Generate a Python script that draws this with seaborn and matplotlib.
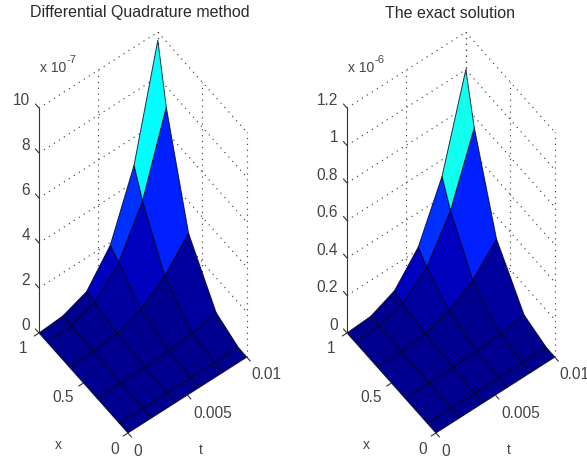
import numpy as np
import matplotlib
matplotlib.use("Agg")
import matplotlib.pyplot as plt
from matplotlib.colors import ListedColormap
from mpl_toolkits.mplot3d import proj3d
import seaborn as sns

# ---------- data ----------
t_nodes = [0.0, 0.002, 0.004, 0.006, 0.008, 0.010]
x_nodes = [0.0, 0.095, 0.345, 0.655, 0.905, 1.0]

# rows follow x_nodes, columns follow t_nodes; multiples of 1e-7
dq_values = [
    [0, 0,     0,     0,     0,     0],
    [0, 0.000, 0.001, 0.002, 0.004, 0.008],
    [0, 0.003, 0.025, 0.085, 0.200, 0.450],
    [0, 0.020, 0.170, 0.580, 1.380, 2.600],
    [0, 0.060, 0.460, 1.540, 3.600, 7.090],
    [0, 0.080, 0.490, 1.880, 4.760, 9.640],
]
# multiples of 1e-6
exact_values = [
    [0, 0,     0,     0,     0,     0],
    [0, 0.000, 0.000, 0.000, 0.000, 0.001],
    [0, 0.000, 0.003, 0.009, 0.021, 0.041],
    [0, 0.002, 0.018, 0.061, 0.144, 0.281],
    [0, 0.006, 0.047, 0.160, 0.380, 0.741],
    [0, 0.008, 0.064, 0.216, 0.512, 1.000],
]
dq_zticks = [0, 2, 4, 6, 8, 10]
dq_zlabels = ["0", "2", "4", "6", "8", "10"]
exact_zticks = [0, 0.2, 0.4, 0.6, 0.8, 1.0, 1.2]
exact_zlabels = ["0", "0.2", "0.4", "0.6", "0.8", "1", "1.2"]
x_ticks = [0, 0.5, 1]
x_ticklabels = ["0", "0.5", "1"]
t_ticks = [0, 0.005, 0.01]
t_ticklabels = ["0", "0.005", "0.01"]

# ---------- style ----------
sns.set_theme(style="white", font="Liberation Sans")
W, H = 587, 461
TXT = "#454545"
FS = 11.2

# MATLAB-like 64-level jet
k = np.arange(1, 65)
jet64 = ListedColormap(np.column_stack([
    np.interp(k, [24, 40, 56, 64], [0, 1, 1, 0.5]),
    np.interp(k, [8, 24, 40, 56], [0, 1, 1, 0]),
    np.interp(k, [1, 8, 24, 40], [0.5625, 1, 1, 0]),
]))

fig = plt.figure(figsize=(W / 100, H / 100), dpi=100)
fig.patch.set_facecolor("white")


def disp(ax, t, x, z):
    px, py, _ = proj3d.proj_transform(t, x, z, ax.get_proj())
    return ax.transData.transform((px, py))


def panel(values, zticks, zlabels, title, exp_txt, origin_px, title_x):
    side = 455
    ax = fig.add_axes([0.2, 0.0, side / W, side / H], projection="3d",
                      proj_type="ortho", elev=57.9, azim=-127,
                      computed_zorder=False)
    ax.set_axis_off()
    ax.patch.set_visible(False)
    zmax = zticks[-1]
    ax.set_xlim(0, 0.01)
    ax.set_ylim(0, 1)
    ax.set_zlim(0, zmax)
    aspect = (149, 148, 424)
    ax.set_box_aspect(aspect, zoom=1.0)
    ax.apply_aspect()
    h = disp(ax, 0, 1, zmax)[1] - disp(ax, 0, 1, 0)[1]
    ax.set_box_aspect(aspect, zoom=225.0 / h)
    # put the base of the z axis on its place in the figure
    p = disp(ax, 0, 1, 0)
    pos = ax.get_position()
    ax.set_position([pos.x0 + (origin_px[0] - p[0]) / W,
                     pos.y0 + (H - origin_px[1] - p[1]) / H, pos.width, pos.height])
    ax.apply_aspect()

    def draw(xs, ys, zs, **kw):
        ax.plot(xs, ys, zs, **kw)

    def label(t, x, z, s, dx, dy, ha="center", va="center", fs=FS, color=TXT):
        px, py, _ = proj3d.proj_transform(t, x, z, ax.get_proj())
        ax.annotate(s, xy=(px, py), xycoords="data", xytext=(dx, dy),
                    textcoords="offset pixels", ha=ha, va=va, fontsize=fs,
                    color=color, annotation_clip=False)

    dots = dict(color="#444444", lw=0.85, ls=(0, (1, 4)), zorder=1)
    for z in zticks:
        draw([0, 0.01], [1, 1], [z, z], **dots)
        draw([0.01, 0.01], [1, 0], [z, z], **dots)
    for t in t_ticks[1:]:
        draw([t, t], [1, 1], [0, zmax], **dots)
    for x in x_ticks:
        draw([0.01, 0.01], [x, x], [0, zmax], **dots)

    T, X = np.meshgrid(t_nodes, x_nodes)
    Z = np.array(values, dtype=float)
    ax.plot_surface(T, X, Z, rstride=1, cstride=1, shade=False,
                    facecolors=jet64(Z / Z.max()), edgecolor=(0, 0, 0.1, 0.8),
                    linewidth=0.7, antialiased=True, zorder=2)

    ax_style = dict(color="#333333", lw=0.8, zorder=3)
    draw([0, 0], [1, 1], [0, zmax], **ax_style)
    for z, s in zip(zticks, zlabels):
        draw([0, 0], [1, 1.04], [z, z], **ax_style)
        label(0, 1, z, s, -9, 8, ha="right")
    for x, s, off in zip(x_ticks, x_ticklabels, [(-13, -17), (-20, -15), (-16, -15)]):
        draw([0, -0.0004], [x, x], [0, 0], **ax_style)
        label(0, x, 0, s, *off)
    for t, s, off in zip(t_ticks, t_ticklabels, [(10, -19), (25, -18), (20, -17)]):
        draw([t, t], [0, -0.04], [0, 0], **ax_style)
        label(t, 0, 0, s, *off)
    label(0, 0.5, 0, "x", -25, -62, fs=10)
    label(0.005, 0, 0, "t", 13, -55, fs=10)

    label(0, 1, zmax, "x 10", 1, 40, ha="left", fs=10)
    label(0, 1, zmax, exp_txt, 27, 48, ha="left", fs=8)
    fig.text(title_x / W, 1 - 13 / H, title, ha="center", va="center",
             fontsize=11.5, color="#2a2a2a")


panel(dq_values, dq_zticks, dq_zlabels, "Differential Quadrature method", "-7", (39, 333), 140)
panel(exact_values, exact_zticks, exact_zlabels, "The exact solution", "-6", (347, 333), 450)

fig.savefig("out.png", dpi=100, facecolor="white")
